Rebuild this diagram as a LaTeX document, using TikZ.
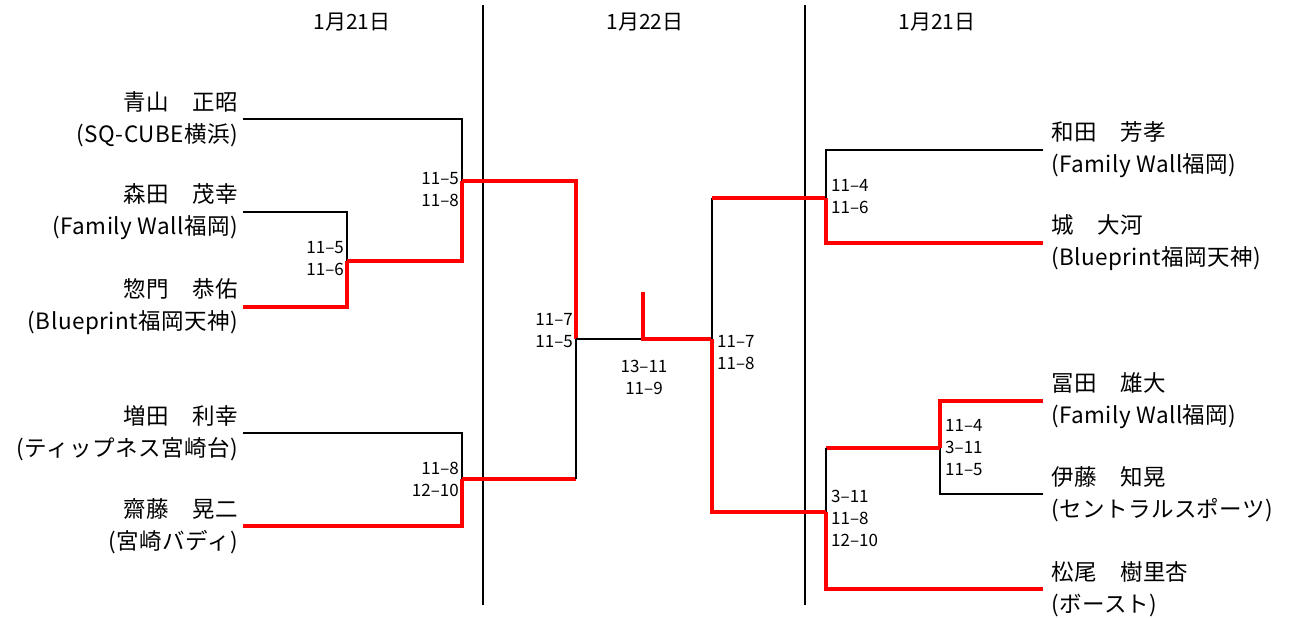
\documentclass[tikz,border=0pt]{standalone}
\usepackage{fontspec}
\setmainfont{Noto Sans CJK JP}
\usetikzlibrary{positioning}

\begin{document}
\begin{tikzpicture}[
        x=1pt, y=-1pt,
        lname/.style={anchor=east, align=right, inner sep=0pt, font=\fontsize{22.5}{32}\selectfont\addfontfeature{LetterSpace=2}},
        rname/.style={anchor=west, align=left, inner sep=0pt, font=\fontsize{22.5}{32}\selectfont\addfontfeature{LetterSpace=2}},
        score/.style={inner sep=0pt, font=\fontsize{17}{22}\selectfont},
        datelabel/.style={font=\fontsize{21}{22}\selectfont},
        lost/.style={draw=black, line width=1.6pt},
        won/.style={draw=red, line width=4pt}
    ]
    \useasboundingbox (0,0) rectangle (1290,618);

    % Day headers and separators
    \node (day1) [datelabel] at (352,22) {1月21日};
    \node (day2) [datelabel] at (645,22) {1月22日};
    \node (day3) [datelabel] at (937,22) {1月21日};
    \draw [line width=1.6pt] (483,5) -- (483,605);
    \draw [line width=1.6pt] (805,5) -- (805,605);

    % Players, left side
    \node (p1) [lname] at (238,119) {青山　正昭\\(SQ-CUBE横浜)};
    \node (p2) [lname] at (238,212) {森田　茂幸\\(Family Wall福岡)};
    \node (p3) [lname] at (238,307) {惣門　恭佑\\(Blueprint福岡天神)};
    \node (p4) [lname] at (238,433) {増田　利幸\\(ティップネス宮崎台)};
    \node (p5) [lname] at (238,526) {齋藤　晃二\\(宮崎バディ)};

    % Players, right side
    \node (p6) [rname] at (1051,150) {和田　芳孝\\(Family Wall福岡)};
    \node (p7) [rname] at (1051,243) {城　大河\\(Blueprint福岡天神)};
    \node (p8) [rname] at (1051,401) {冨田　雄大\\(Family Wall福岡)};
    \node (p9) [rname] at (1051,494) {伊藤　知晃\\(セントラルスポーツ)};
    \node (p10) [rname] at (1051,589) {松尾　樹里杏\\(ボースト)};

    % Bracket joints
    \coordinate (m1) at (462,181);
    \coordinate (m2) at (347,261);
    \coordinate (m3) at (462,479);
    \coordinate (j1) at (576,479);
    \coordinate (s1) at (576,339);
    \coordinate (fin) at (643,339);
    \coordinate (champ) at (643,292);
    \coordinate (s2) at (712,339);
    \coordinate (q1) at (712,198);
    \coordinate (r1) at (826,198);
    \coordinate (r2) at (940,448);
    \coordinate (q2) at (826,448);
    \coordinate (r3) at (826,512);

    % Left half
    \draw [lost] (p1.east) ++(5,0) -| (m1);
    \draw [lost] (p2.east) ++(5,0) -| (m2);
    \draw [won] (p3.east) ++(5,0) -| (m2);
    \draw [won] (m2) -| (m1);
    \draw [won] (m1) -| (s1);
    \draw [lost] (p4.east) ++(5,0) -| (m3);
    \draw [won] (p5.east) ++(5,0) -| (m3);
    \draw [won] (m3) -- (j1);
    \draw [lost] (j1) -- (s1);
    \draw [lost] (s1) -- (fin);

    % Final
    \draw [won] (champ) -- (fin) -- (s2);

    % Right half
    \draw [lost] (s2) -- (q1);
    \draw [won] (q1) -- (r1);
    \draw [lost] (p6.west) ++(-8,0) -| (r1);
    \draw [won] (p7.west) ++(-8,0) -| (r1);
    \draw [won] (p8.west) ++(-8,0) -| (r2);
    \draw [lost] (p9.west) ++(-8,0) -| (r2);
    \draw [won] (r2) -- (q2);
    \draw [lost] (q2) -- (r3);
    \draw [won] (p10.west) ++(-8,0) -| (r3);
    \draw [won] (r3) -| (s2);

    % Scores
    \node (sc1) [score, anchor=east, align=right] at (459,190) {11–5\\11–8};
    \node (sc2) [score, anchor=east, align=right] at (344,259) {11–5\\11–6};
    \node (sc3) [score, anchor=east, align=right] at (459,479) {11–8\\12–10};
    \node (sc4) [score, anchor=east, align=right] at (573,331) {11–7\\11–5};
    \node (sc5) [score, align=center] at (644,377) {13–11\\11–9};
    \node (sc6) [score, anchor=west, align=left] at (717,353) {11–7\\11–8};
    \node (sc7) [score, anchor=west, align=left] at (831,197) {11–4\\11–6};
    \node (sc8) [score, anchor=west, align=left] at (945,448) {11–4\\3–11\\11–5};
    \node (sc9) [score, anchor=west, align=left] at (831,518) {3–11\\11–8\\12–10};

\end{tikzpicture}
\end{document}
